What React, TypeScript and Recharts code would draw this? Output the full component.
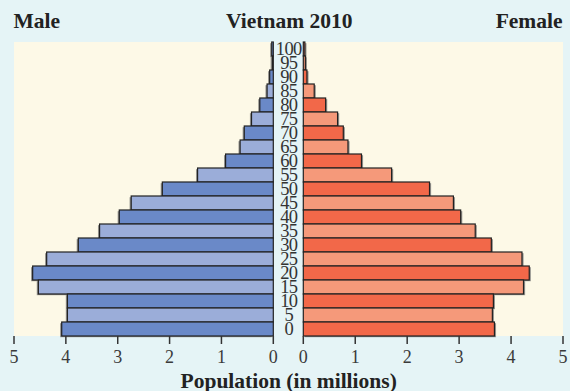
import React from "react";
import { BarChart, Bar, XAxis, YAxis, CartesianGrid } from "recharts";

// Vietnam 2010 population by five-year age group (millions)
const ageGroups = [0, 5, 10, 15, 20, 25, 30, 35, 40, 45, 50, 55, 60, 65, 70, 75, 80, 85, 90, 95, 100];
const maleValues = [4.08, 3.97, 3.97, 4.53, 4.64, 4.37, 3.76, 3.35, 2.97, 2.74, 2.14, 1.46, 0.92, 0.64, 0.56, 0.42, 0.26, 0.12, 0.07, 0.02, 0.03];
const femaleValues = [3.68, 3.64, 3.66, 4.24, 4.35, 4.21, 3.62, 3.31, 3.03, 2.89, 2.43, 1.7, 1.12, 0.86, 0.77, 0.66, 0.43, 0.21, 0.07, 0.04, 0.03];
const axisTicks = [0, 1, 2, 3, 4, 5];

const MALE_DARK = "#6a89c8";
const MALE_LIGHT = "#9badd9";
const FEMALE_DARK = "#f26849";
const FEMALE_LIGHT = "#f5997a";
const SERIF = "'Liberation Serif', 'Times New Roman', serif";

// oldest group on top
const rows = ageGroups
  .map((age, i) => ({ age: String(age), male: maleValues[i], female: femaleValues[i], idx: i }))
  .reverse();

const makeShape = (dark: string, light: string, outward: number) => (props: any) => {
  const { x, y, width, height, payload } = props;
  const x0 = Math.min(x, x + width);
  const w = Math.abs(width);
  const fill = payload.idx % 2 === 0 ? dark : light;
  return (
    <g>
      <rect x={x0 + outward * 1.6} y={y + 1.2} width={w} height={height} fill="#6f6f6f" opacity={0.75} />
      <rect x={x0} y={y} width={w} height={height} fill={fill} stroke="#222" strokeWidth={1.2} />
    </g>
  );
};

// age labels sit in the gap between the two halves, tall and tightly packed
const AgeTick = (props: any) => {
  const { x, y, payload } = props;
  return (
    <text
      x={x - 14.5}
      y={y}
      dy={6.3}
      textAnchor="middle"
      fontFamily={SERIF}
      fontSize={18.5}
      fill="#333"
      letterSpacing={-0.6}
    >
      {payload.value}
    </text>
  );
};

const tickStyle = { fontFamily: SERIF, fontSize: 18, fill: "#3a3a3a" };

export default function App() {
  return (
    <div style={{ position: "absolute", left: 0, top: 0, width: 570, height: 391, background: "#e5f4f6", overflow: "hidden" }}>
      <div style={{ position: "absolute", left: 0, top: 0 }}>
        <BarChart
          width={290}
          height={391}
          data={rows}
          layout="vertical"
          barCategoryGap={0}
          margin={{ top: 42, right: 16.7, bottom: 25, left: 14 }}
        >
          <CartesianGrid fill="#fdf9e7" stroke="none" horizontal={false} vertical={false} />
          <XAxis
            type="number"
            domain={[0, 5]}
            ticks={axisTicks}
            reversed
            interval={0}
            height={30}
            axisLine={false}
            tickSize={8}
            tickMargin={6}
            tickLine={{ stroke: "#333", strokeWidth: 1.5 }}
            tick={tickStyle}
          />
          <YAxis type="category" dataKey="age" hide width={0} />
          <Bar dataKey="male" isAnimationActive={false} shape={makeShape(MALE_DARK, MALE_LIGHT, -1)} />
        </BarChart>
      </div>
      <div style={{ position: "absolute", left: 274, top: 0 }}>
        <BarChart
          width={296}
          height={391}
          data={rows}
          layout="vertical"
          barCategoryGap={0}
          margin={{ top: 42, right: 7, bottom: 25, left: 0 }}
        >
          <CartesianGrid fill="#fdf9e7" stroke="none" horizontal={false} vertical={false} />
          <XAxis
            type="number"
            domain={[0, 5]}
            ticks={axisTicks}
            interval={0}
            height={30}
            axisLine={false}
            tickSize={8}
            tickMargin={6}
            tickLine={{ stroke: "#333", strokeWidth: 1.5 }}
            tick={tickStyle}
          />
          <YAxis
            type="category"
            dataKey="age"
            width={29.3}
            axisLine={false}
            tickLine={false}
            tickSize={0}
            tickMargin={0}
            interval={0}
            tick={<AgeTick />}
          />
          <Bar dataKey="female" isAnimationActive={false} shape={makeShape(FEMALE_DARK, FEMALE_LIGHT, 1)} />
        </BarChart>
      </div>
      <svg width={570} height={391} style={{ position: "absolute", left: 0, top: 0, pointerEvents: "none" }}>
        <g fontFamily={SERIF} fontWeight="bold" fontSize={21.5} fill="#222">
          <text x={13.5} y={27.8} textAnchor="start">Male</text>
          <text x={289.3} y={27.8} textAnchor="middle">Vietnam 2010</text>
          <text x={562.5} y={27.8} textAnchor="end">Female</text>
          <text x={288.7} y={388} textAnchor="middle">Population (in millions)</text>
        </g>
      </svg>
    </div>
  );
}
